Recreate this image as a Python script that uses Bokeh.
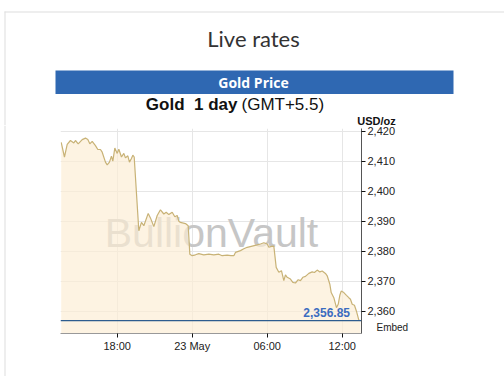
from bokeh.plotting import figure
from bokeh.layouts import column, row
from bokeh.models import Label, Span, Range1d, FixedTicker, NumeralTickFormatter, LinearAxis
from bokeh.core.properties import value
from bokeh.embed import file_html
from bokeh.resources import INLINE

# hours relative to 00:00, 23 May (GMT+5.5)
hours = [-10.48, -10.22, -10.0, -9.74, -9.47, -9.34, -9.12, -8.8, -8.54, -8.35,
         -8.19, -8.0, -7.74, -7.55, -7.34, -7.2, -6.94, -6.8, -6.62, -6.46,
         -6.35, -6.19, -6.0, -5.87, -5.66, -5.47, -5.34, -5.15, -5.02, -4.86,
         -4.75, -4.64, -4.27, -4.06, -3.87, -3.52, -3.34, -3.07, -2.8, -2.54,
         -2.27, -2.08, -1.87, -1.6, -1.39, -1.2, -1.07, -0.94, -0.54, -0.32,
         -0.19, 0.0, 0.26, 0.53, 0.93, 1.33, 1.73, 2.13, 2.4, 2.8,
         3.1, 3.33, 3.46, 3.86, 4.13, 4.4, 4.8, 5.2, 5.46, 5.73,
         6.0, 6.13, 6.34, 6.53, 6.72, 6.93, 7.14, 7.33, 7.46, 7.6,
         7.86, 8.05, 8.26, 8.48, 8.66, 8.85, 9.06, 9.33, 9.6, 9.78,
         10.0, 10.21, 10.4, 10.66, 10.8, 11.01, 11.12, 11.33, 11.54, 11.68,
         11.81, 11.92, 12.13, 12.34, 12.53, 12.66, 12.8, 12.98, 13.14, 13.33,
         13.46]
prices = [2416.3, 2411.4, 2415.6, 2416.9, 2416.1, 2416.9, 2415.8, 2417.2, 2417.7, 2417.2,
          2415.8, 2416.6, 2415.2, 2413.9, 2413.9, 2413.0, 2409.7, 2408.8, 2409.7, 2411.7,
          2410.0, 2414.4, 2412.6, 2414.0, 2411.4, 2412.6, 2411.1, 2411.8, 2409.7, 2410.9,
          2412.0, 2411.4, 2386.8, 2389.6, 2388.5, 2392.6, 2391.1, 2388.2, 2391.9, 2393.8,
          2392.4, 2393.0, 2392.2, 2393.0, 2391.5, 2391.9, 2390.0, 2389.6, 2389.2, 2388.5,
          2379.0, 2378.5, 2378.8, 2379.2, 2378.8, 2379.0, 2378.8, 2379.0, 2378.5, 2378.7,
          2378.5, 2378.5, 2379.6, 2380.2, 2380.8, 2381.3, 2381.7, 2382.1, 2382.4, 2382.8,
          2382.4, 2381.3, 2381.6, 2381.7, 2374.6, 2373.0, 2373.5, 2370.2, 2372.1, 2371.3,
          2370.7, 2369.6, 2369.4, 2370.5, 2370.2, 2371.3, 2371.6, 2372.6, 2373.1, 2372.9,
          2373.7, 2373.1, 2373.4, 2372.6, 2371.8, 2369.0, 2366.2, 2364.5, 2361.2, 2362.3,
          2365.3, 2366.7, 2366.2, 2365.3, 2364.5, 2364.0, 2362.3, 2362.0, 2360.0, 2357.0,
          2356.85]
last_price = 2356.85
x_ticks = [-6, 0, 6, 12]
x_tick_labels = ["18:00", "23 May", "06:00", "12:00"]
y_ticks = [2360, 2370, 2380, 2390, 2400, 2410, 2420]

W, H = 504, 376
HEAD = 125          # height of header strip
FL, FR, FT, FB = 60, 361, 128, 333   # plot frame in page pixels
X0, X1 = -10.536, 13.544
Y1 = 2420.9
Y0 = Y1 - (FB - FT) / 3.0
BORDER = "#dddddd"


def dx(cx):
    return X0 + (cx - FL) * (X1 - X0) / (FR - FL)


def dy(cy):
    return Y1 - (cy - FT) * (Y1 - Y0) / (FB - FT)


def bare(fig):
    fig.axis.visible = False
    fig.grid.visible = False
    fig.outline_line_color = None
    fig.min_border = 0
    fig.frame_align = False
    return fig


# ---------------- header ----------------
head = bare(figure(width=W, height=HEAD, output_backend="svg", toolbar_location=None,
                   x_range=Range1d(0, W), y_range=Range1d(HEAD, 0)))
head.quad(left=[4, 4], right=[W, 5], top=[11, 11], bottom=[12, HEAD],
          fill_color=BORDER, line_color=None)
head.quad(left=[55], right=[453], top=[70], bottom=[93.5], fill_color="#2f68b2", line_color=None)
head.text(x=[253], y=[38], text=["Live rates"], text_font=value("Lato"), text_font_size="22px",
          text_color="#333333", text_align="center", text_baseline="middle")
head.text(x=[253], y=[82], text=["Gold Price"], text_font=value("Open Sans"), text_font_size="14px",
          text_font_style="bold", text_color="white", text_align="center", text_baseline="middle")
head.text(x=[237], y=[104], text=["Gold\u00a0 1 day"], text_font=value("Liberation Sans"),
          text_font_size="17px", text_font_style="bold", text_color="#111111",
          text_align="right", text_baseline="middle")
head.text(x=[241], y=[104], text=["(GMT+5.5)"], text_font=value("Liberation Sans"),
          text_font_size="17px", text_color="#111111", text_align="left", text_baseline="middle")
head.text(x=[376], y=[120], text=["USD/oz"], text_font=value("Liberation Sans"),
          text_font_size="11px", text_font_style="bold", text_color="#111111",
          text_align="center", text_baseline="middle")

# ---------------- left strip (border) ----------------
strip = bare(figure(width=FL, height=H - HEAD, output_backend="svg", toolbar_location=None,
                    x_range=Range1d(0, FL), y_range=Range1d(H - HEAD, 0)))
strip.quad(left=[4], right=[5], top=[0], bottom=[H - HEAD], fill_color=BORDER, line_color=None)

# ---------------- main chart ----------------
p = figure(width=W - FL, height=H - HEAD, output_backend="svg", toolbar_location=None,
           x_range=Range1d(X0, X1), y_range=Range1d(Y0, Y1),
           y_axis_location="right",
           min_border_left=0, min_border_right=W - FR,
           min_border_top=FT - HEAD, min_border_bottom=H - FB)
p.outline_line_color = None
p.frame_align = False

p.xaxis.ticker = FixedTicker(ticks=x_ticks)
p.xaxis.major_label_overrides = {t: l for t, l in zip(x_ticks, x_tick_labels)}
p.yaxis.ticker = FixedTicker(ticks=y_ticks)
p.yaxis.formatter = NumeralTickFormatter(format="0,0")
for ax in (p.xaxis[0], p.yaxis[0]):
    ax.major_tick_in = 0
    ax.major_tick_out = 4
    ax.minor_tick_line_color = None
    ax.major_tick_line_color = "#111111"
    ax.major_label_text_font = "Liberation Sans"
    ax.major_label_text_font_size = "11px"
    ax.major_label_text_color = "#222222"
    ax.major_label_standoff = 2
p.xaxis.axis_line_color = "#999999"
p.yaxis.axis_line_color = "#555555"
p.xgrid.grid_line_color = "#e6e6e6"
p.ygrid.grid_line_color = "#e6e6e6"

# "Embed" link placed as an extra right-hand axis label
embed_at = 2354.5
embed_axis = LinearAxis(ticker=FixedTicker(ticks=[embed_at]),
                        major_label_overrides={embed_at: "Embed"},
                        axis_line_color=None, major_tick_line_color=None,
                        minor_tick_line_color=None, major_tick_in=0, major_tick_out=0,
                        major_label_standoff=-22,
                        major_label_text_font="Liberation Sans",
                        major_label_text_font_size="10px",
                        major_label_text_color="#222222")
p.add_layout(embed_axis, "right")

# watermark (under the fill)
p.text(x=[dx(211)], y=[dy(232)], text=["BullionVault"],
       text_font=value("Liberation Sans"), text_font_size="41px",
       text_color="#c6c6c6", text_align="center", text_baseline="middle")

p.varea(x=hours, y1=[Y0] * len(hours), y2=prices, fill_color="#fcedd4", fill_alpha=0.67)
p.line(hours, prices, line_color="#c8b276", line_width=1.2)

p.add_layout(Span(location=last_price, dimension="width", line_color="#2d5d8f", line_width=1.2))
p.add_layout(Label(x=dx(349.5), y=last_price, y_offset=4, text=f"{last_price:,.2f}",
                   text_font="Liberation Sans", text_font_size="12px", text_font_style="bold",
                   text_color="#3b6cc0", text_align="right", text_baseline="bottom"))

layout = column(head, row(strip, p, spacing=0), spacing=0)
open("out.html", "w").write(file_html(layout, INLINE))
